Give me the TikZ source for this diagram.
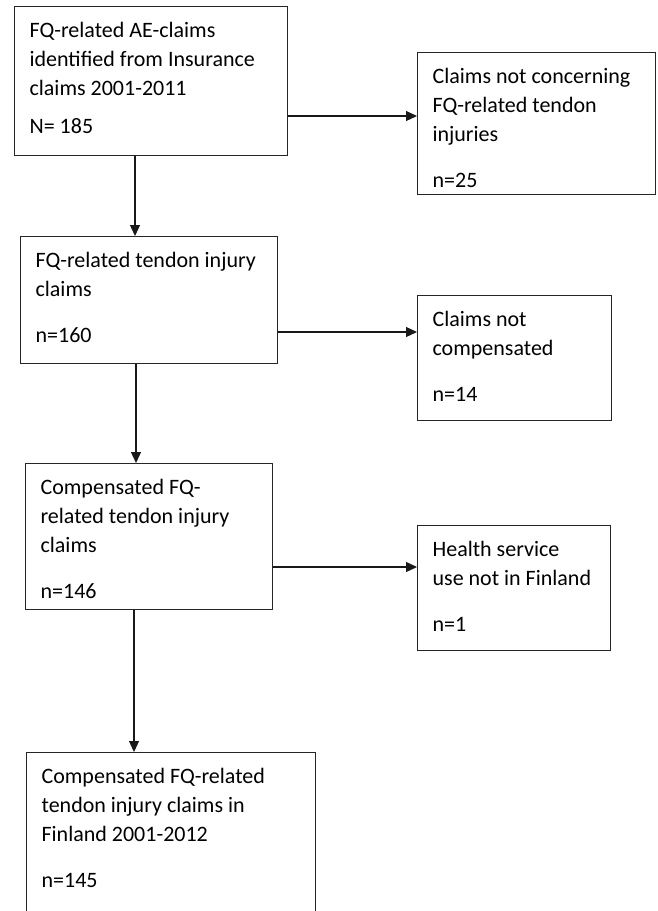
\documentclass[tikz,border=0pt]{standalone}
\usepackage{fontspec}
\setmainfont{Carlito}
\usetikzlibrary{arrows.meta}

\begin{document}
\begin{tikzpicture}[x=1pt,y=-1pt,every node/.style={draw=black!85, line width=1.2pt, anchor=north west, align=flush left, inner xsep=15pt, inner ysep=0pt, text height=31pt, font={\fontsize{22}{29}\selectfont}},arr/.style={line width=1.2pt, draw=black!90, -{Triangle[length=11pt,width=10pt]}}]
\useasboundingbox (0,0) rectangle (658,911);
\clip (0,0) rectangle (658,911);
\node[text width=243pt, text depth=118pt] (all) at (14,6) {FQ-related AE-claims\\identified from Insurance\\claims 2001-2011\\[9pt]N= 185};
\node[text width=208pt, text depth=111pt] (notfq) at (417,52) {Claims not concerning\\FQ-related tendon\\injuries\\[17pt]n=25};
\node[text width=227pt, text depth=96pt] (tendon) at (20,236) {FQ-related tendon injury\\claims\\[17pt]n=160};
\node[text width=164pt, text depth=94pt] (notcomp) at (417,295) {Claims not\\compensated\\[17pt]n=14};
\node[text width=217pt, text depth=115pt] (comp) at (25,463) {Compensated FQ-\\related tendon injury\\claims\\[17pt]n=146};
\node[text width=163pt, text depth=94pt] (abroad) at (417,525) {Health service\\use not in Finland\\[17pt]n=1};
\node[text width=259pt, text depth=200pt] (final) at (26,752) {Compensated FQ-related\\tendon injury claims in\\Finland 2001-2012\\[17pt]n=145};
\draw[arr] (all.east |- 0,116) -- (notfq.west |- 0,116);
\draw[arr] (all.south -| 135,0) -- (tendon.north -| 135,0);
\draw[arr] (tendon.east |- 0,332) -- (notcomp.west |- 0,332);
\draw[arr] (tendon.south -| 136,0) -- (comp.north -| 136,0);
\draw[arr] (comp.east |- 0,567) -- (abroad.west |- 0,567);
\draw[arr] (comp.south -| 134,0) -- (final.north -| 134,0);
\end{tikzpicture}
\end{document}
